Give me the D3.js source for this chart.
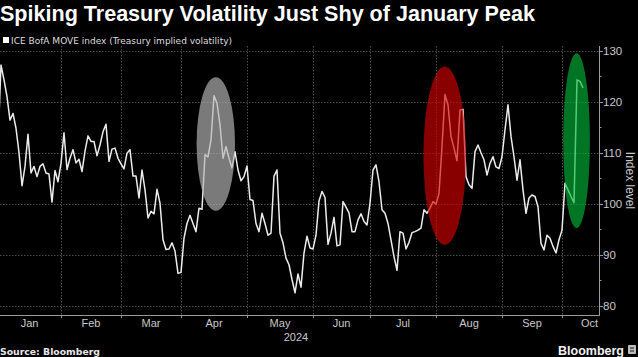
<!DOCTYPE html>
<html><head><meta charset="utf-8">
<script src="https://cdn.jsdelivr.net/npm/d3@7"></script>
<style>
html,body{margin:0;padding:0;background:#000;}
svg{display:block;}
</style></head>
<body>
<svg id="c" width="638" height="357"></svg>
<script>
// ---------------- data ----------------
const titleText = "Spiking Treasury Volatility Just Shy of January Peak";
const seriesName = "ICE BofA MOVE index (Treasury implied volatility)";
const yAxisTitle = "Index level";
const yearLabel = "2024";
const sourceText = "Source: Bloomberg";
const brandText = "Bloomberg";
const yTicks = [80, 90, 100, 110, 120, 130];
const yMinorTicks = [85, 95, 105, 115, 125];
const monthLabels = ["Jan", "Feb", "Mar", "Apr", "May", "Jun", "Jul", "Aug", "Sep", "Oct"];
// US bond-market holidays (no index print)
const holidays = ["2024-01-15", "2024-02-19", "2024-03-29", "2024-05-27", "2024-06-19", "2024-07-04", "2024-09-02"];
const firstDay = "2024-01-02";
const lastCalendarDay = "2024-10-31";
// MOVE index, one value per trading day from 2024-01-02
const moveValues = [
  112, 127.2, 124.3, 121, 116.4, 117.7, 114.8, 110, 103.5, 107.3,
  113.6, 106, 107.3, 105.3, 107.3, 107.8, 106, 105.8, 100.3, 106.5,
  104.3, 107.9, 113.9, 106.7, 108.9, 110.6, 108, 108.7, 106.3, 110.3,
  113.3, 112.2, 112.2, 109.4, 111.5, 114.1, 115.6, 108.3, 110.7, 110.9,
  108.9, 107.8, 106.8, 109.9, 110.6, 105.4, 105.4, 101.1, 106.6, 102.7,
  97.2, 98.5, 98.0, 102.8, 100.1, 92.9, 91, 91.1, 92.3, 90.7,
  86.3, 86.5, 93.2, 96.1, 97.7, 96.1, 94.5, 99.1, 98.9, 109.6,
  109.2, 112.5, 121.2, 119.7, 115.5, 108.9, 111.2, 108.9, 107, 110.2,
  106.6, 104.5, 105.3, 107.4, 100.8, 100.6, 96.1, 94.5, 98.1, 96.1,
  93.8, 94.2, 105.4, 106.6, 94.2, 92.3, 89.3, 88.0, 85.1, 82.5,
  86.2, 83.6, 90.3, 93.6, 91.3, 91.1, 93.8, 100.5, 102.4, 101.2,
  92, 94.2, 97.3, 91.7, 91.9, 100.4, 99.3, 98.2, 94.5, 94.5,
  96.8, 98.0, 96.5, 95.8, 100.1, 106.6, 107.6, 104.3, 98.8, 98.1,
  96.1, 92.9, 89.6, 86.9, 94.5, 94.2, 91.1, 92.4, 94.3, 94.5,
  94.8, 95.2, 98.8, 98.1, 99.1, 100.4, 99.9, 102.0, 111.2, 121.4,
  119.4, 113.2, 110.9, 108.4, 118.4, 118.5, 105.3, 103.7, 103.0, 110.2,
  111.5, 110, 108.6, 105.6, 107.9, 109.2, 107.2, 106.9, 109.2, 114.5,
  119.4, 113.2, 109.2, 104.6, 108.6, 102.7, 98.1, 101.1, 101.7, 101.4,
  99.4, 92.2, 90.9, 93.8, 93.2, 91.6, 90.3, 92.9, 94.8, 104.0,
  102.7, 101.4, 100.2, 124.3, 124.0, 122.7
];
// highlighted episodes: trading-day index span and value span
const highlightNames = ["April spike", "August spike", "October spike"];
const highlightDays = [[66.2, 79.0], [141.8, 156.0], [188.4, 197.3]];
const highlightValues = [[98.6, 124.8], [91.9, 126.9], [95.2, 129.5]];
const highlightColors = ["#b4b4b4", "#d40000", "#00b83a"];

// ---------------- build trading calendar ----------------
const hol = new Set(holidays);
const days = [];
{
  let t = Date.parse(firstDay + "T00:00:00Z");
  const end = Date.parse(lastCalendarDay + "T00:00:00Z");
  while (t <= end) {
    const d = new Date(t);
    const wd = d.getUTCDay();
    const s = d.toISOString().slice(0, 10);
    if (wd !== 0 && wd !== 6 && !hol.has(s)) days.push(d);
    t += 864e5;
  }
}
const monthStart = monthLabels.map((_, m) => days.findIndex(d => d.getUTCMonth() === m));
const monthEnd = monthLabels.map((_, m) => (m + 1 < monthLabels.length ? monthStart[m + 1] : days.length));

// ---------------- layout ----------------
const W = 638, H = 357;
const plot = { left: 0, right: 599, top: 46, bottom: 315 };
const svg = d3.select("#c");
svg.append("rect").attr("width", W).attr("height", H).attr("fill", "#000");

const x = d3.scaleLinear().domain([0, 200]).range([-2, 598]);
const y = d3.scaleLinear().domain([80, 130]).range([305.5, 50.8]);

const axisFont = "'Liberation Sans', Arial, sans-serif";
const axisColor = "#c8c8c8";

// clip
svg.append("clipPath").attr("id", "clip").append("rect")
  .attr("x", plot.left).attr("y", plot.top)
  .attr("width", plot.right - plot.left).attr("height", plot.bottom - plot.top);

// grid
const grid = svg.append("g");
grid.selectAll("line.h").data(yTicks).join("line")
  .attr("x1", plot.left).attr("x2", plot.right)
  .attr("y1", d => Math.round(y(d)) + 0.5).attr("y2", d => Math.round(y(d)) + 0.5)
  .attr("stroke", "#4a4a4a").attr("stroke-width", 1).attr("stroke-dasharray", "1.5,1.5");
const vIdx = monthStart.filter(i => x(i) > plot.left + 1);
grid.selectAll("line.v").data(vIdx).join("line")
  .attr("x1", d => Math.round(x(d)) + 0.5).attr("x2", d => Math.round(x(d)) + 0.5)
  .attr("y1", plot.top).attr("y2", plot.bottom)
  .attr("stroke", "#4a4a4a").attr("stroke-width", 1).attr("stroke-dasharray", "1.5,1.5");

// line
const line = d3.line().x((d, i) => x(i)).y(d => y(d));
svg.append("path").datum(moveValues)
  .attr("clip-path", "url(#clip)")
  .attr("d", line)
  .attr("fill", "none").attr("stroke", "#ececec").attr("stroke-width", 1.5)
  .attr("stroke-linejoin", "round");

// highlight ellipses (on top, translucent)
svg.append("g").selectAll("ellipse").data(highlightNames).join("ellipse")
  .attr("cx", (d, i) => (x(highlightDays[i][0]) + x(highlightDays[i][1])) / 2)
  .attr("cy", (d, i) => (y(highlightValues[i][0]) + y(highlightValues[i][1])) / 2)
  .attr("rx", (d, i) => (x(highlightDays[i][1]) - x(highlightDays[i][0])) / 2)
  .attr("ry", (d, i) => (y(highlightValues[i][0]) - y(highlightValues[i][1])) / 2)
  .attr("fill", (d, i) => highlightColors[i])
  .attr("fill-opacity", (d, i) => i === 0 ? 0.68 : 0.64);

// x axis
const xAxisG = svg.append("g");
xAxisG.append("line").attr("x1", plot.left).attr("x2", plot.right)
  .attr("y1", plot.bottom + 0.5).attr("y2", plot.bottom + 0.5)
  .attr("stroke", "#9a9a9a").attr("stroke-width", 1);
xAxisG.selectAll("line.t").data(vIdx).join("line")
  .attr("x1", d => Math.round(x(d)) + 0.5).attr("x2", d => Math.round(x(d)) + 0.5)
  .attr("y1", plot.bottom).attr("y2", plot.bottom + 3)
  .attr("stroke", "#9a9a9a");
const mLab = xAxisG.selectAll("text.m").data(monthLabels).join("text")
  .attr("y", 327)
  .attr("text-anchor", "middle")
  .attr("font-family", axisFont).attr("font-size", 11).attr("fill", axisColor)
  .text(d => d);
mLab.each(function (d, i) {
  const w = this.getComputedTextLength();
  let cx = x((monthStart[i] + monthEnd[i]) / 2);
  cx = Math.min(cx, plot.right - w / 2 - 1);
  d3.select(this).attr("x", cx);
});
svg.append("text").attr("x", x((monthStart[4] + monthEnd[4]) / 2) + 16).attr("y", 341)
  .attr("text-anchor", "middle").attr("font-family", axisFont).attr("font-size", 11)
  .attr("fill", axisColor).text(yearLabel);

// y axis (right)
const yAxisG = svg.append("g");
yAxisG.append("line").attr("x1", plot.right + 0.5).attr("x2", plot.right + 0.5)
  .attr("y1", plot.top).attr("y2", plot.bottom + 1)
  .attr("stroke", "#9a9a9a");
yAxisG.selectAll("line.M").data(yTicks).join("line")
  .attr("x1", plot.right).attr("x2", plot.right + 4)
  .attr("y1", d => Math.round(y(d)) + 0.5).attr("y2", d => Math.round(y(d)) + 0.5)
  .attr("stroke", "#9a9a9a");
yAxisG.selectAll("line.m").data(yMinorTicks).join("line")
  .attr("x1", plot.right).attr("x2", plot.right + 2.5)
  .attr("y1", d => Math.round(y(d)) + 0.5).attr("y2", d => Math.round(y(d)) + 0.5)
  .attr("stroke", "#9a9a9a");
yAxisG.selectAll("text").data(yTicks).join("text")
  .attr("x", plot.right + 4).attr("y", d => y(d) + 4)
  .attr("font-family", axisFont).attr("font-size", 11.5).attr("fill", axisColor)
  .text(d => d);
svg.append("text")
  .attr("transform", `translate(626,${(plot.top + plot.bottom) / 2 + 0}) rotate(90)`)
  .attr("text-anchor", "middle").attr("font-family", axisFont).attr("font-size", 12)
  .attr("fill", axisColor).text(yAxisTitle);

// title
const t = svg.append("text").attr("x", 0).attr("y", 21)
  .attr("font-family", "'Liberation Sans', Arial, sans-serif").attr("font-weight", "bold")
  .attr("font-size", 20).attr("fill", "#ffffff").text(titleText);
{
  const w = t.node().getComputedTextLength();
  t.attr("font-size", 20 * 535 / w);
}

// legend
svg.append("rect").attr("x", 3).attr("y", 37).attr("width", 6).attr("height", 6).attr("fill", "#ffffff");
const lg = svg.append("text").attr("x", 11).attr("y", 43.5)
  .attr("font-family", "'DejaVu Sans Condensed', 'Liberation Sans', sans-serif").attr("font-size", 9.5)
  .attr("fill", "#dcdcdc").text(seriesName);
{
  const w = lg.node().getComputedTextLength();
  lg.attr("textLength", 221).attr("lengthAdjust", "spacingAndGlyphs");
}

// source & brand
svg.append("text").attr("x", 0).attr("y", 354.5)
  .attr("font-family", "'DejaVu Sans', sans-serif").attr("font-weight", "bold")
  .attr("font-size", 9).attr("fill", "#e6e6e6").text(sourceText)
  .attr("textLength", 100).attr("lengthAdjust", "spacingAndGlyphs");
svg.append("text").attr("x", 624).attr("y", 355)
  .attr("text-anchor", "end")
  .attr("font-family", "'Liberation Sans', Arial, sans-serif").attr("font-weight", "bold")
  .attr("font-size", 12.5).attr("fill", "#f2f2f2").text(brandText);
const logo = svg.append("g").attr("transform", "translate(628,345)");
logo.append("rect").attr("width", 8).attr("height", 9).attr("rx", 1).attr("fill", "#bdbdbd");
logo.append("rect").attr("x", 2).attr("y", 2).attr("width", 4).attr("height", 2).attr("fill", "#6a6a6a");
logo.append("rect").attr("x", 2).attr("y", 5).attr("width", 4).attr("height", 2).attr("fill", "#6a6a6a");
</script>
</body></html>
